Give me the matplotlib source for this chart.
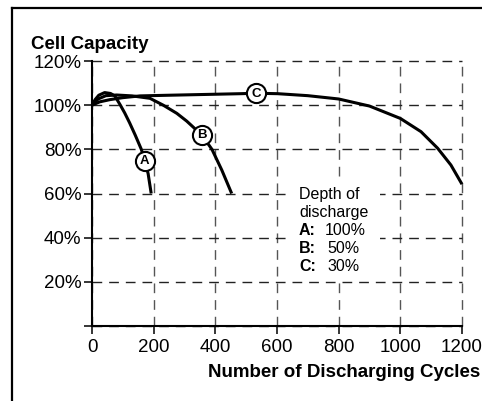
import matplotlib
matplotlib.use("Agg")
import matplotlib.pyplot as plt
from matplotlib.lines import Line2D
from matplotlib.patches import Rectangle

plt.rcParams["font.family"] = ["Liberation Sans", "DejaVu Sans"]

# capacity (%) vs. number of cycles for three depths of discharge
cycles_a = [0, 10, 22, 41, 60, 74, 92, 106, 122, 140, 160, 171, 182, 192]
capacity_a = [100, 102.5, 104.5, 105.7, 105.3, 104.2, 100, 96.5, 92, 86.5,
              80, 74.7, 69, 60]

cycles_b = [0, 20, 45, 80, 130, 188, 231, 275, 307, 356, 389, 421, 453]
capacity_b = [100, 102.8, 104.3, 104.6, 104.2, 103.1, 100, 96.3, 92.8, 86.5,
              80, 70.6, 60]

cycles_c = [0, 25, 58, 100, 156, 250, 350, 483, 532, 602, 700, 800, 900,
            1000, 1067, 1121, 1164, 1200]
capacity_c = [100, 101.5, 102.5, 103.4, 104.2, 104.5, 104.8, 105.2, 105.4,
              105.2, 104.3, 102.8, 99.6, 94.0, 88, 80.5, 72.9, 64.2]

curve_names = ["A", "B", "C"]
marker_x = [171, 356, 532]
marker_y = [74.7, 86.5, 105.4]

x_ticks = [0, 200, 400, 600, 800, 1000, 1200]
y_ticks = [0, 20, 40, 60, 80, 100, 120]
y_labels = ["", "20%", "40%", "60%", "80%", "100%", "120%"]

depths = ["100%", "50%", "30%"]

W, H = 482, 401
fig = plt.figure(figsize=(W / 100, H / 100), dpi=100)
ax = fig.add_axes([92 / W, 1 - 326 / H, 370 / W, 265 / H])

ax.set_xlim(0, 1200)
ax.set_ylim(0, 120)
ax.set_xticks(x_ticks)
ax.set_xticklabels([str(t) for t in x_ticks])
ax.set_yticks(y_ticks)
ax.set_yticklabels(y_labels)
ax.tick_params(direction="out", length=6, width=1.1, labelsize=13.5,
               colors="black")
ax.tick_params(axis="y", pad=1.5)
ax.tick_params(axis="x", pad=3)

for side in ["top", "right"]:
    ax.spines[side].set_visible(False)
for side in ["left", "bottom"]:
    ax.spines[side].set_linewidth(1.5)

ax.grid(True, linestyle=(0, (7, 5)), linewidth=1.0)
for gl in ax.xaxis.get_gridlines():
    gl.set_color("#555555")
    gl.set_clip_on(False)
for gl in ax.yaxis.get_gridlines():
    gl.set_color("#222222")
    gl.set_clip_on(False)
ax.set_axisbelow(True)

for xs, ys in [(cycles_a, capacity_a), (cycles_b, capacity_b),
               (cycles_c, capacity_c)]:
    ax.plot(xs, ys, color="black", linewidth=2.2, clip_on=False,
            solid_capstyle="butt", solid_joinstyle="round", zorder=3)

ax.scatter(marker_x, marker_y, s=190, facecolor="white", edgecolor="black",
           linewidth=1.5, zorder=4, clip_on=False)
for name, mx, my in zip(curve_names, marker_x, marker_y):
    ax.text(mx, my - 0.2, name, ha="center", va="center", fontsize=9.5,
            fontweight="bold", zorder=5)

# legend block with a white backing over the grid
ax.add_patch(Rectangle((649, 22.2), 285, 45.3, facecolor="white",
                       edgecolor="none", zorder=2))
ax.text(671, 57.5, "Depth of", fontsize=11.5, va="baseline", zorder=5)
ax.text(671, 49.4, "discharge", fontsize=11.5, va="baseline", zorder=5)
for i, (name, depth) in enumerate(zip(curve_names, depths)):
    yb = 41.2 - 8.15 * i
    ax.text(671, yb, name + ":", fontsize=11.5, fontweight="bold",
            va="baseline", zorder=5)
    ax.text(756 if i == 0 else 765, yb, depth, fontsize=11.5,
            va="baseline", zorder=5)

fig.text(31 / W, 1 - 49 / H, "Cell Capacity", fontsize=13.5,
         fontweight="bold", va="baseline")
fig.text(480 / W, 1 - 377 / H, "Number of Discharging Cycles",
         fontsize=13.5, fontweight="bold", ha="right", va="baseline")

# outer frame, left and top edges
fig.add_artist(Line2D([12 / W, 12 / W], [0, 1 - 7.5 / H], color="black",
                      linewidth=1.6))
fig.add_artist(Line2D([12 / W, 1], [1 - 7.5 / H, 1 - 7.5 / H],
                      color="black", linewidth=1.6))

fig.savefig("out.png", dpi=100, facecolor="white")
